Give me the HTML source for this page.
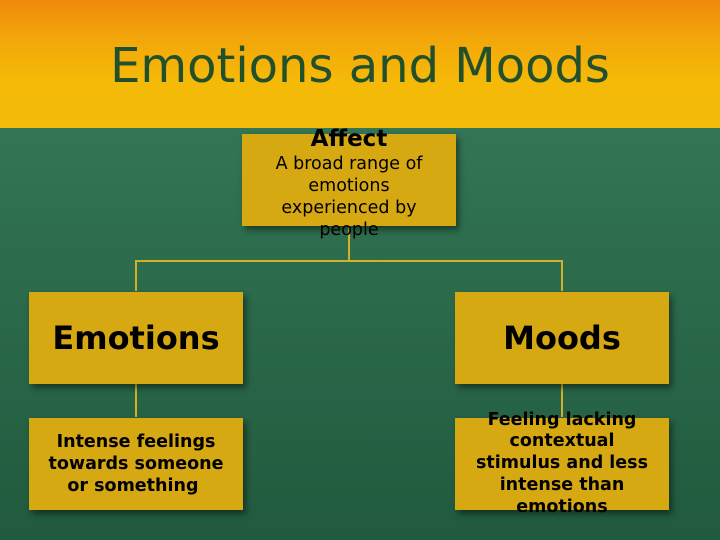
<!DOCTYPE html>
<html><head><style>
body{margin:0;width:720px;height:540px;overflow:hidden;font-family:"DejaVu Sans","Liberation Sans",sans-serif;}
#bg{position:absolute;left:0;top:0;width:720px;height:540px;background:linear-gradient(#3a7f5a 0px,#2f7050 200px,#215a3e 540px);}
#top{position:absolute;left:0;top:0;width:720px;height:128px;background:linear-gradient(#ef8a0c 0px,#f3a70a 40px,#f5b908 80px,#f3bb0a 128px);}
h1{position:absolute;left:0;top:38px;width:720px;margin:0;text-align:center;font-weight:normal;font-size:48px;color:#23502c;}
.b{position:absolute;width:214px;height:92px;background:#d6a812;box-shadow:3px 4px 6px rgba(0,0,0,.45);display:flex;align-items:center;justify-content:center;text-align:center;color:#000;white-space:nowrap;}
.l{position:absolute;background:#d2b128;}
</style></head><body>
<div id="bg"></div><div id="top"></div>
<h1>Emotions and Moods</h1>
<div class="l" style="left:348px;top:226px;width:2px;height:36px"></div>
<div class="l" style="left:135px;top:260px;width:428px;height:2px"></div>
<div class="l" style="left:135px;top:260px;width:2px;height:31px"></div>
<div class="l" style="left:561px;top:260px;width:2px;height:31px"></div>
<div class="l" style="left:135px;top:383px;width:2px;height:34px"></div>
<div class="l" style="left:561px;top:383px;width:2px;height:34px"></div>
<div class="b" style="left:242px;top:134px;height:92px;align-items:flex-start"><div style="margin-top:-9px;line-height:22px;font-size:17.5px"><b style="font-size:23px;line-height:28px">Affect</b><br>A broad range of<br>emotions<br>experienced by<br>people</div></div>
<div class="b" style="left:29px;top:292px;font-size:32px;font-weight:bold">Emotions</div>
<div class="b" style="left:455px;top:292px;font-size:32px;font-weight:bold">Moods</div>
<div class="b" style="left:29px;top:418px;font-size:17.5px;font-weight:bold;line-height:22px">Intense feelings<br>towards someone<br>or something&nbsp;</div>
<div class="b" style="left:455px;top:418px;font-size:17.5px;font-weight:bold;line-height:21.7px">Feeling lacking<br>contextual<br>stimulus and less<br>intense than<br>emotions</div>
</body></html>
